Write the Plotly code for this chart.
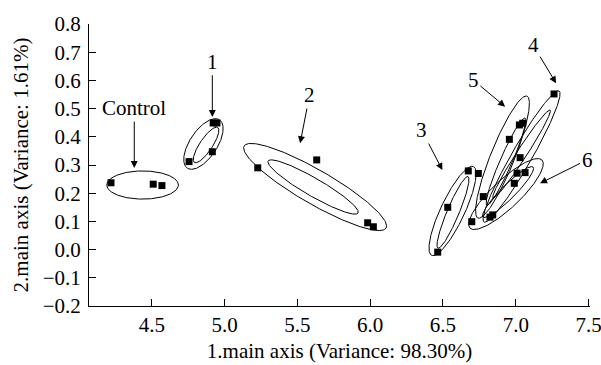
import numpy as np
import plotly.graph_objects as go

# ---- data ----
ctrl_x = [4.22, 4.51, 4.57]
ctrl_y = [0.237, 0.232, 0.227]
g1_x = [4.922, 4.948, 4.916, 4.756]
g1_y = [0.449, 0.449, 0.347, 0.312]
g2_x = [5.228, 5.633, 5.983, 6.022]
g2_y = [0.290, 0.318, 0.095, 0.081]
g3_x = [6.674, 6.743, 6.533, 6.464]
g3_y = [0.279, 0.270, 0.150, -0.009]
g4_x = [7.263, 7.030, 6.842]
g4_y = [0.552, 0.326, 0.123]
g5_x = [7.025, 7.048, 6.956, 6.777]
g5_y = [0.442, 0.448, 0.391, 0.188]
g6_x = [7.009, 7.064, 6.990, 6.823, 6.698]
g6_y = [0.271, 0.273, 0.235, 0.115, 0.099]

# confidence ellipses: centre x, centre y, half-axis u (dx, dy), half-axis v (dx, dy)
ell_cx = [4.437, 4.855, 4.873, 5.622, 5.608, 6.566, 6.569, 7.040, 7.040, 6.909, 6.933, 6.933, 6.947]
ell_cy = [0.229, 0.3745, 0.371, 0.222, 0.222, 0.137, 0.132, 0.330, 0.339, 0.328, 0.312, 0.197, 0.204]
ell_ux = [0.246, 0.1106, 0.0801, 0.4876, 0.309, 0.1435, 0.103, 0.2576, 0.1957, 0.1683, 0.1305, 0.2473, 0.1717]
ell_uy = [0.0, 0.0858, 0.0620, -0.1454, -0.0922, 0.1574, 0.127, 0.2323, 0.156, 0.2163, 0.1543, 0.1206, 0.0887]
ell_vx = [0.0, 0.0780, 0.0360, -0.0584, -0.0309, 0.0747, 0.038, 0.0596, 0.0288, 0.0765, 0.0377, 0.066, 0.034]
ell_vy = [0.050, -0.0268, -0.0124, -0.0522, -0.0276, -0.0181, -0.0082, -0.0176, -0.0096, -0.0159, -0.0085, -0.0361, -0.0176]

# labels: text, text position, arrow tip
lab_text = ["Control", "1", "2", "3", "4", "5", "6"]
lab_x = [4.38, 4.916, 5.584, 6.354, 7.119, 6.709, 7.490]
lab_y = [0.502, 0.666, 0.548, 0.424, 0.7255, 0.601, 0.318]
tip_x = [4.38, 4.916, 5.519, 6.496, 7.277, 6.927, 7.167]
tip_y = [0.289, 0.470, 0.377, 0.282, 0.590, 0.507, 0.235]

x_ticks = [4.5, 5.0, 5.5, 6.0, 6.5, 7.0, 7.5]
y_ticks = [-0.2, -0.1, 0.0, 0.1, 0.2, 0.3, 0.4, 0.5, 0.6, 0.7, 0.8]

FONT = "Liberation Serif, Times New Roman, serif"
FS = 21

fig = go.Figure()
t = np.linspace(0, 2 * np.pi, 240)
for cx, cy, ux, uy, vx, vy in zip(ell_cx, ell_cy, ell_ux, ell_uy, ell_vx, ell_vy):
    fig.add_trace(go.Scatter(
        x=cx + ux * np.cos(t) + vx * np.sin(t),
        y=cy + uy * np.cos(t) + vy * np.sin(t),
        mode="lines", line=dict(color="black", width=1),
        hoverinfo="skip", showlegend=False))

for gx, gy in [(ctrl_x, ctrl_y), (g1_x, g1_y), (g2_x, g2_y), (g3_x, g3_y),
               (g4_x, g4_y), (g5_x, g5_y), (g6_x, g6_y)]:
    fig.add_trace(go.Scatter(
        x=gx, y=gy, mode="markers",
        marker=dict(symbol="square", size=7, color="black"),
        showlegend=False))

for txt, lx, ly, tx, ty in zip(lab_text, lab_x, lab_y, tip_x, tip_y):
    fig.add_annotation(
        x=tx, y=ty, ax=lx, ay=ly, axref="x", ayref="y", xref="x", yref="y",
        text=txt, showarrow=True, arrowhead=2, arrowsize=1.4, arrowwidth=1,
        arrowcolor="black", font=dict(family=FONT, size=FS, color="black"))

axis_common = dict(
    showline=True, linecolor="black", linewidth=1, mirror=False,
    ticks="inside", ticklen=7, tickwidth=1, tickcolor="black",
    showgrid=False, zeroline=False,
    tickfont=dict(family=FONT, size=FS, color="black"),
    tickformat=".1f", ticklabeloverflow="allow",
)

fig.update_xaxes(range=[4.069, 7.51], tickvals=x_ticks,
                 title=dict(text="1.main axis (Variance: 98.30%)",
                            font=dict(family=FONT, size=FS, color="black"),
                            standoff=7),
                 **axis_common)
fig.update_yaxes(range=[-0.2, 0.8], tickvals=y_ticks,
                 title=dict(text="2.main axis (Variance: 1.61%)",
                            font=dict(family=FONT, size=FS, color="black"),
                            standoff=8),
                 ticklabelstandoff=3,
                 **axis_common)

fig.update_layout(
    width=601, height=365,
    margin=dict(l=89, r=11, t=24, b=59, autoexpand=False),
    plot_bgcolor="white", paper_bgcolor="white",
    showlegend=False,
)

fig.write_html("out.html", config={"displayModeBar": False},
               post_script="document.body.style.margin='0px';")
